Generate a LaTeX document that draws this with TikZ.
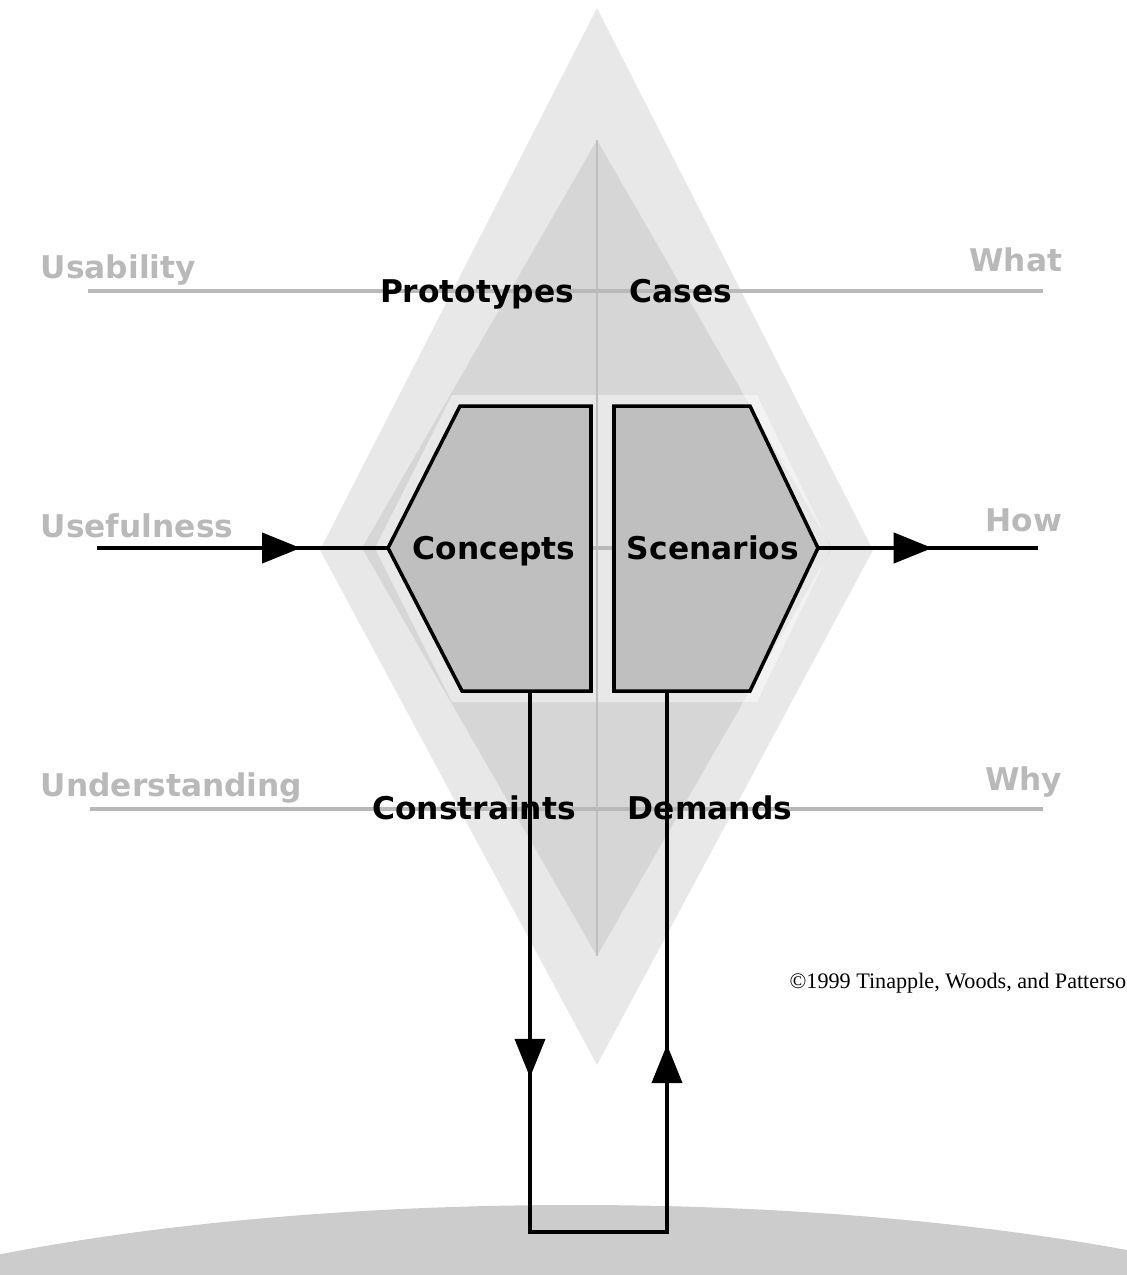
\documentclass[tikz,border=0pt]{standalone}
\usepackage{fontspec}
\setmainfont{Liberation Serif}
\newfontfamily\verd{DejaVu Sans}
\usetikzlibrary{arrows.meta,positioning,decorations.markings}

\begin{document}
\begin{tikzpicture}[x=0.01cm, y=-0.01cm, every node/.style={inner sep=0pt},
  term/.style={font=\verd\bfseries\fontsize{8.9}{10}\selectfont, anchor=base},
  axislbl/.style={font=\verd\bfseries\fontsize{8.9}{10}\selectfont, text=gray!55},
  guide/.style={draw=gray!55, line width=1.1pt},
  flow/.style={draw=black, line width=1.3pt},
  halfhex/.style={draw=black, line width=1pt, fill=gray!50},
  midarrow/.style={postaction={decorate, decoration={markings, mark=at position #1 with {\arrow{Triangle[length=11pt, width=8.5pt]}}}}}]
\useasboundingbox (0,0) rectangle (1127,1275);

\begin{scope}
\clip (0,0) rectangle (1127,1275);
\fill[gray!40] (575,1430) ellipse [x radius=920, y radius=225];
\end{scope}

\fill[gray!18] (597,8) -- (873,550) -- (597,1065) -- (320,550) -- cycle;
\fill[gray!45, opacity=0.5] (597,140) -- (832,548) -- (597,956) -- (362,548) -- cycle;
\fill[white, opacity=0.45] (452,395) -- (757,395) -- (831,548) -- (757,702) -- (452,702) -- (375,548) -- cycle;
\draw[gray!50, line width=0.6pt] (597,140) -- (597,956);

\coordinate (topL) at (88,291);  \coordinate (topR) at (1043,291);
\coordinate (botL) at (90,809);  \coordinate (botR) at (1043,809);
\coordinate (useW) at (97,548);  \coordinate (howE) at (1038,548);
\coordinate (conW) at (388,548); \coordinate (scnE) at (818,548);
\coordinate (conS) at (530,691); \coordinate (scnS) at (667,691);
\coordinate (baseL) at (530,1232); \coordinate (baseR) at (667,1232);

\draw[guide] (topL) -- (topR);
\draw[guide] (botL) -- (botR);
\draw[guide] (conW) -- (scnE);

\draw[halfhex] (460,406) -- (591,406) -- (591,691) -- (462,691) -- (conW) -- cycle;
\draw[halfhex] (614,406) -- (750,406) -- (scnE) -- (750,691) -- (614,691) -- cycle;

\draw[flow, midarrow=0.70] (useW) -- (conW);
\draw[flow, midarrow=0.52] (scnE) -- (howE);
\draw[flow, midarrow=0.317, midarrow=0.710] (conS) -- (baseL) -- (baseR) -- (scnS);

\node[axislbl, anchor=base west] (usab) at (40,278) {Usability};
\node[axislbl, anchor=base west] (usef) at (40,537) {Usefulness};
\node[axislbl, anchor=base west] (under) at (40,796) {Understanding};
\node[axislbl, anchor=base east] (what) at (1063,271) {What};
\node[axislbl, anchor=base east] (how) at (1063,531) {How};
\node[axislbl, anchor=base east] (why) at (1063,790) {Why};

\node[term] (proto) at (477,302) {Prototypes};
\node[term] (cases) at (681,302) {Cases};
\node[term] (concepts) at (494,559) {Concepts};
\node[term] (scen) at (713,559) {Scenarios};
\node[term] (constr) at (474,819) {Constraints};
\node[term] (dem) at (710,819) {Demands};

\node[anchor=base east, font=\fontsize{6.3}{7}\selectfont] (credit) at (1127,988) {©1999 Tinapple, Woods, and Patterso};
\end{tikzpicture}
\end{document}
